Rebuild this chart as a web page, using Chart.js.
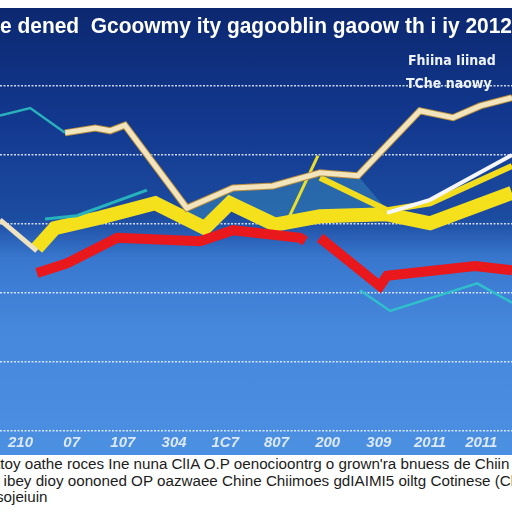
<!DOCTYPE html>
<html>
<head>
<meta charset="utf-8">
<script src="https://cdn.jsdelivr.net/npm/chart.js@4.4.1/dist/chart.umd.min.js"></script>
<style>
  html, body { margin: 0; padding: 0; width: 512px; height: 512px; overflow: hidden; background: #ffffff; }
  #panel {
    position: absolute; left: 0; top: 8px; width: 512px; height: 447px;
    background: linear-gradient(to bottom, #0c2870 0%, #12388e 25%, #1c4ca0 47%, #3977cf 56%, #4688dc 72%, #4c90e2 100%);
  }
  #chart { position: absolute; left: 0; top: 0; }
  .key { position: absolute; color: #eef3fb; font: bold 14px 'Liberation Sans Narrow', 'DejaVu Sans Condensed', 'Liberation Sans', sans-serif; white-space: nowrap; }
  #notes {
    position: absolute; left: -4px; top: 456px; width: 530px;
    font: 15.2px 'Liberation Sans', Arial, sans-serif; line-height: 16.5px; color: #1c1c1c;
    white-space: nowrap; overflow: hidden;
  }
</style>
</head>
<body>
<div id="panel">
  <canvas id="chart" width="512" height="447"></canvas>
  <div class="key" style="left:408px; top:44px;">Fhiina Iiinad</div>
  <div class="key" style="left:406px; top:67px;">TChe naowy</div>
</div>
<div id="notes">ttoy oathe roces Ine nuna ClIA O.P oenocioontrg o grown'ra bnuess de Chiin<br>i ibey dioy oononed OP oazwaee Chine Chiimoes gdIAIMI5 oiltg Cotinese (Clim<br>sojeiuin</div>
<script>
// tick labels along the bottom
const xLabels = ['210', '07', '107', '304', '1C7', '807', '200', '309', '2011', '2011'];

// series (x in tick units, y in grid units)
const tealTopX = [-0.4, 0.19, 0.87];
const tealTopY = [4.57, 4.68, 4.32];

const creamX = [0.87, 1.46, 1.75, 2.04, 3.25, 4.15, 4.93, 5.85, 6.59, 7.8, 8.45, 8.98, 9.6];
const creamY = [4.32, 4.39, 4.35, 4.43, 3.23, 3.52, 3.55, 3.74, 3.7, 4.64, 4.54, 4.71, 4.83];

const creamLeftX = [-0.4, 0.32];
const creamLeftY = [3.06, 2.61];

const shadeX = [3.25, 4.15, 4.93, 5.85, 6.59, 7.16];
const shadeY = [3.23, 3.52, 3.55, 3.74, 3.7, 3.2];

const yellowX = [0.32, 0.67, 1.55, 2.63, 3.6, 4.09, 4.97, 5.85, 7.16, 8.0, 9.6];
const yellowY = [2.65, 2.94, 3.09, 3.3, 2.94, 3.3, 2.99, 3.11, 3.14, 3.01, 3.45];

const yellowThinX = [5.26, 5.81];
const yellowThinY = [3.12, 3.99];

const yellowUpperX = [5.85, 7.16, 8.0, 9.6];
const yellowUpperY = [3.67, 3.2, 3.3, 3.84];

const whiteX = [7.16, 8.0, 9.6];
const whiteY = [3.16, 3.35, 4.0];

const redX = [0.32, 0.91, 1.89, 3.51, 4.15, 5.46, 5.56, 5.66, 5.85, 7.02, 7.16, 8.88, 9.6];
const redY = [2.29, 2.43, 2.8, 2.75, 2.91, 2.8, 2.75, null, 2.8, 2.1, 2.25, 2.39, 2.33];

const tealLowX = [6.63, 7.22, 8.92, 9.6];
const tealLowY = [2.04, 1.74, 2.14, 1.86];

const tealMidX = [0.48, 1.1, 2.47];
const tealMidY = [3.07, 3.12, 3.49];

function pts(xs, ys) {
    return xs.map((x, i) => ({ x: x, y: ys[i] }));
}

function line(data, color, width, order) {
    return {
        data: data,
        borderColor: color,
        borderWidth: width,
        pointRadius: 0,
        tension: 0,
        fill: false,
        spanGaps: false,
        borderJoinStyle: 'miter',
        order: order
    };
}

const datasets = [
    line(pts(yellowX, yellowY), '#f4e11c', 14, 6),                // 0
    line(pts(creamX, creamY), '#f2e4bd', 5, 2),                   // 1
    line(pts(creamX, creamY), '#b98f3e', 7, 3),                   // 2 gold edge
    line(pts(creamLeftX, creamLeftY), '#efe2bf', 5, 2),           // 3
    line(pts(yellowThinX, yellowThinY), '#e9df2a', 3, 4),         // 4
    line(pts(yellowUpperX, yellowUpperY), '#f1dc1e', 6, 5),       // 5
    line(pts(whiteX, whiteY), '#f4f6fb', 4, 1),                   // 6
    line(pts(redX, redY), '#e8181c', 10, 1),                      // 7
    line(pts(tealLowX, tealLowY), '#2fc0cc', 2.5, 1),             // 8
    line(pts(tealMidX, tealMidY), '#26b3bd', 3, 1),               // 9
    line(pts(tealTopX, tealTopY), '#2ab0bb', 2.5, 1)              // 10
];

// soft teal wash between the cream line and the yellow band
const shade = line(pts(shadeX, shadeY), 'rgba(0,0,0,0)', 0, 9);
shade.fill = { target: 0 };
shade.backgroundColor = 'rgba(70,165,200,0.35)';
datasets.push(shade);

const ctx = document.getElementById('chart').getContext('2d');
const chart = new Chart(ctx, {
    type: 'line',
    data: { datasets: datasets },
    options: {
        responsive: false,
        animation: false,
        devicePixelRatio: 1,
        layout: { padding: { left: 0, right: 0, top: 0, bottom: 0 } },
        plugins: {
            legend: { display: false },
            tooltip: { enabled: false },
            title: {
                display: true,
                text: 'e dened  Gcoowmy ity gagooblin gaoow th i iy 2012',
                color: '#ffffff',
                align: 'start',
                font: { family: "'Liberation Sans', sans-serif", size: 22, weight: 'bold' },
                padding: { top: 6, bottom: 11 }
            }
        },
        scales: {
            x: {
                type: 'linear',
                min: -0.4,
                max: 9.6,
                afterBuildTicks: (scale) => {
                    scale.ticks = xLabels.map((_, i) => ({ value: i }));
                },
                grid: { display: false, drawTicks: false },
                border: { display: false },
                ticks: {
                    autoSkip: false,
                    maxRotation: 0,
                    padding: 3,
                    color: '#dce8fb',
                    font: { family: "'Liberation Sans', sans-serif", size: 15, weight: 'bold', style: 'italic' },
                    callback: (v) => xLabels[v] ?? ''
                }
            },
            y: {
                min: 0,
                max: 5.5,
                afterBuildTicks: (scale) => {
                    scale.ticks = [0, 1, 2, 3, 4, 5].map(v => ({ value: v }));
                },
                ticks: { display: false },
                grid: { color: 'rgba(235,243,255,0.85)', lineWidth: 1.5, drawTicks: false },
                border: { display: false, dash: [2, 1.5] }
            }
        }
    }
});
</script>
</body>
</html>
